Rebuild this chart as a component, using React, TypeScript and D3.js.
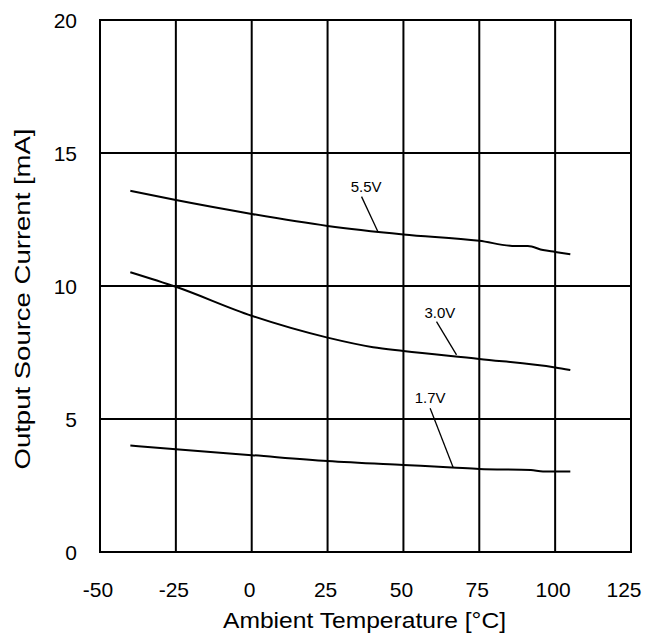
import React from "react";
import * as d3 from "d3";

const xTicks = [-50, -25, 0, 25, 50, 75, 100, 125];
const yTicks = [0, 5, 10, 15, 20];

const temps55 = [-40, -25, 0, 25, 50, 75, 87, 91, 96, 100, 105];
const vals55 = [13.58, 13.23, 12.71, 12.26, 11.94, 11.7, 11.5, 11.5, 11.35, 11.28, 11.19];

const temps30 = [-40, -25, 0, 25, 40, 50, 75, 100, 105];
const vals30 = [10.52, 9.97, 8.88, 8.06, 7.7, 7.56, 7.26, 6.94, 6.84];

const temps17 = [-40, -25, 0, 25, 50, 66, 75, 92, 96, 105];
const vals17 = [4.0, 3.86, 3.64, 3.42, 3.27, 3.18, 3.12, 3.08, 3.03, 3.03];

const seriesNames = ["5.5V", "3.0V", "1.7V"];
// label text position [temp, value], pointer start [temp, value], pointer end [temp, value]
const labelText = [[37.7, 13.52], [62.0, 8.79], [58.8, 5.59]];
const pointerStart = [[36.2, 13.36], [60.9, 8.66], [58.8, 5.4]];
const pointerEnd = [[41.6, 12.04], [67.5, 7.41], [66.4, 3.18]];

const W = 659;
const H = 640;
const left = 100, right = 631, top = 20, bottom = 552;
const font = "'Liberation Sans', Arial, sans-serif";

export default function App() {
  const x = d3.scaleLinear().domain([-50, 125]).range([left, right]);
  const y = d3.scaleLinear().domain([0, 20]).range([bottom, top]);
  const line = d3
    .line<[number, number]>()
    .x((d) => x(d[0]))
    .y((d) => y(d[1]))
    .curve(d3.curveMonotoneX);
  const series = [
    d3.zip(temps55, vals55) as [number, number][],
    d3.zip(temps30, vals30) as [number, number][],
    d3.zip(temps17, vals17) as [number, number][],
  ];
  return (
    <svg
      width={W}
      height={H}
      style={{ position: "absolute", left: 0, top: 0, background: "#fff" }}
      fontFamily={font}
    >
      <rect x={0} y={0} width={W} height={H} fill="#fff" />
      {xTicks.slice(1, -1).map((t) => (
        <line key={"vx" + t} x1={x(t)} x2={x(t)} y1={top} y2={bottom} stroke="#000" strokeWidth={2} />
      ))}
      {yTicks.slice(1, -1).map((t) => (
        <line key={"hy" + t} x1={left} x2={right} y1={y(t)} y2={y(t)} stroke="#000" strokeWidth={2} />
      ))}
      <rect x={left} y={top} width={right - left} height={bottom - top} fill="none" stroke="#000" strokeWidth={2} />
      {series.map((s, i) => (
        <path key={"s" + i} d={line(s) || ""} fill="none" stroke="#000" strokeWidth={2} />
      ))}
      {seriesNames.map((n, i) => (
        <g key={"lab" + i}>
          <line
            x1={x(pointerStart[i][0])}
            y1={y(pointerStart[i][1])}
            x2={x(pointerEnd[i][0])}
            y2={y(pointerEnd[i][1])}
            stroke="#000"
            strokeWidth={1.3}
          />
          <text x={x(labelText[i][0])} y={y(labelText[i][1])} textAnchor="middle" fontSize={15} fill="#000">
            {n}
          </text>
        </g>
      ))}
      {xTicks.map((t, i) => (
        <text
          key={"xt" + t}
          x={x(t) - (i === xTicks.length - 1 ? 7 : 2)}
          y={597}
          textAnchor="middle"
          fontSize={21}
          fill="#000"
        >
          {t}
        </text>
      ))}
      {yTicks.map((t) => (
        <text key={"yt" + t} x={77} y={y(t) + 7.5} textAnchor="end" fontSize={21} fill="#000">
          {t}
        </text>
      ))}
      <text
        x={364.5}
        y={628}
        textAnchor="middle"
        fontSize={21.5}
        fill="#000"
        textLength={283}
        lengthAdjust="spacingAndGlyphs"
      >
        Ambient Temperature [°C]
      </text>
      <text
        transform={`translate(30, 299) rotate(-90)`}
        textAnchor="middle"
        fontSize={21.5}
        fill="#000"
        textLength={341}
        lengthAdjust="spacingAndGlyphs"
      >
        Output Source Current [mA]
      </text>
    </svg>
  );
}
